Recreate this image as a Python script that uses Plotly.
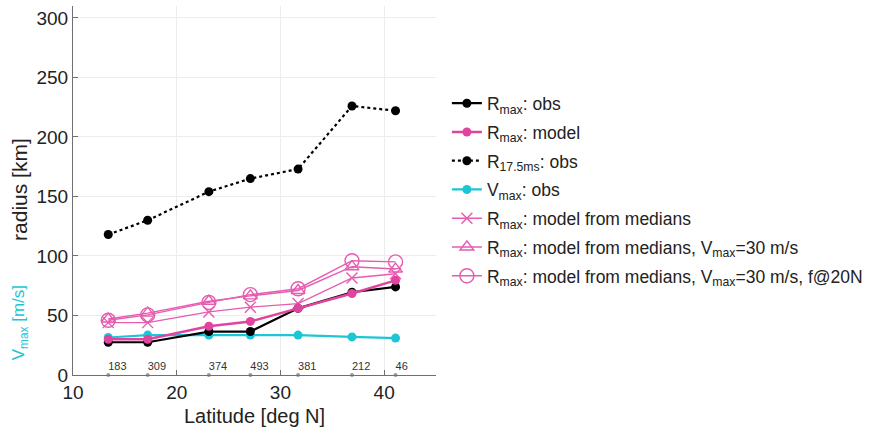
import plotly.graph_objects as go

# ---- data ----
latitude = [13.4, 17.2, 23.1, 27.1, 31.7, 36.9, 41.1]
rmax_obs = [27.5, 27.5, 36.5, 36.5, 56, 69.5, 74]
rmax_model = [30, 30, 41, 45, 56, 68.5, 79.5]
r175_obs = [118, 130, 154, 165, 173, 226, 222]
vmax_obs = [31.5, 33.5, 33.5, 33.5, 33.5, 32, 31]
rmax_medians = [44, 44, 53, 57, 60, 81.5, 85]
rmax_medians_v30 = [47, 52, 62, 66.5, 71, 91, 89]
rmax_medians_v30_f20 = [46, 50.5, 61, 67.5, 72.5, 96, 95]
counts = [183, 309, 374, 493, 381, 212, 46]
count_level = 6.5
x_ticks = [10, 20, 30, 40]
y_ticks = [0, 50, 100, 150, 200, 250, 300]

MAG = "#e0449f"
MAG_L = "#e65cb0"
CYAN = "#1cc6d6"
FONT = "Liberation Sans, Arial, Helvetica, sans-serif"

fig = go.Figure()

fig.add_trace(go.Scatter(x=latitude, y=[0] * len(latitude), mode="markers",
                         marker=dict(color="#9a9a9a", size=4), showlegend=False,
                         cliponaxis=False, hoverinfo="skip"))
fig.add_trace(go.Scatter(x=latitude, y=[count_level] * len(latitude), mode="text",
                         text=[str(c) for c in counts], textposition="middle right",
                         textfont=dict(size=11, color="#333333", family=FONT),
                         showlegend=False, hoverinfo="skip"))

series = [
    ("R<sub>max</sub>: model from medians", rmax_medians,
     dict(color=MAG_L, width=1.4), dict(symbol="x-thin-open", size=11, line=dict(color=MAG_L, width=1.4)), 5),
    ("R<sub>max</sub>: model from medians, V<sub>max</sub>=30 m/s", rmax_medians_v30,
     dict(color=MAG_L, width=1.4), dict(symbol="triangle-up-open", size=12, line=dict(color=MAG_L, width=1.4)), 6),
    ("R<sub>max</sub>: model from medians, V<sub>max</sub>=30 m/s, f@20N", rmax_medians_v30_f20,
     dict(color=MAG_L, width=1.4), dict(symbol="circle-open", size=14, line=dict(color=MAG_L, width=1.4)), 7),
    ("V<sub>max</sub>: obs", vmax_obs,
     dict(color=CYAN, width=2.2), dict(symbol="circle", size=9, color=CYAN), 4),
    ("R<sub>max</sub>: obs", rmax_obs,
     dict(color="black", width=2.2), dict(symbol="circle", size=9, color="black"), 1),
    ("R<sub>max</sub>: model", rmax_model,
     dict(color=MAG, width=2.5), dict(symbol="circle", size=9, color=MAG), 2),
    ("R<sub>17.5ms</sub>: obs", r175_obs,
     dict(color="black", width=2.2, dash="dot"), dict(symbol="circle", size=9, color="black"), 3),
]
for name, vals, line, marker, rank in series:
    fig.add_trace(go.Scatter(x=latitude, y=vals, mode="lines+markers", name=name,
                             line=line, marker=marker, legendrank=rank,
                             legendgroup="g%d" % rank))

fig.update_layout(
    width=874, height=431,
    margin=dict(l=73, r=431, t=6, b=56),
    plot_bgcolor="white", paper_bgcolor="white",
    font=dict(family=FONT, color="#222222"),
    showlegend=True,
    legend=dict(x=1.030, y=0.785, xanchor="left", yanchor="top",
                font=dict(size=17.5, family=FONT, color="#222222"),
                bgcolor="rgba(0,0,0,0)", tracegroupgap=3),
    xaxis=dict(range=[10, 45], tickvals=x_ticks, showline=True, linecolor="#707070",
               linewidth=1.2, ticks="inside", ticklen=5, tickcolor="#707070",
               showgrid=True, gridcolor="#ececec", zeroline=False,
               tickfont=dict(size=19, family=FONT, color="#222222"),
               title=dict(text="Latitude [deg N]", font=dict(size=20, family=FONT, color="#222222"),
                          standoff=7)),
    yaxis=dict(range=[0, 310], tickvals=y_ticks, showline=True, linecolor="#707070",
               linewidth=1.2, ticks="inside", ticklen=5, tickcolor="#707070",
               showgrid=True, gridcolor="#ececec", zeroline=False,
               tickfont=dict(size=19, family=FONT, color="#222222")),
    annotations=[
        dict(text="radius [km]", textangle=-90, xref="paper", yref="paper",
             x=-0.149, y=0.504, xanchor="center", yanchor="middle", showarrow=False,
             font=dict(size=21, family=FONT, color="#222222")),
        dict(text="V<sub>max</sub> [m/s]", textangle=-90, xref="paper", yref="paper",
             x=-0.145, y=0.141, xanchor="center", yanchor="middle", showarrow=False,
             font=dict(size=17, family=FONT, color=CYAN)),
    ],
)

fig.write_html("out.html", config={"displayModeBar": False},
               post_script="document.body.style.margin='0';document.body.style.padding='0';")
